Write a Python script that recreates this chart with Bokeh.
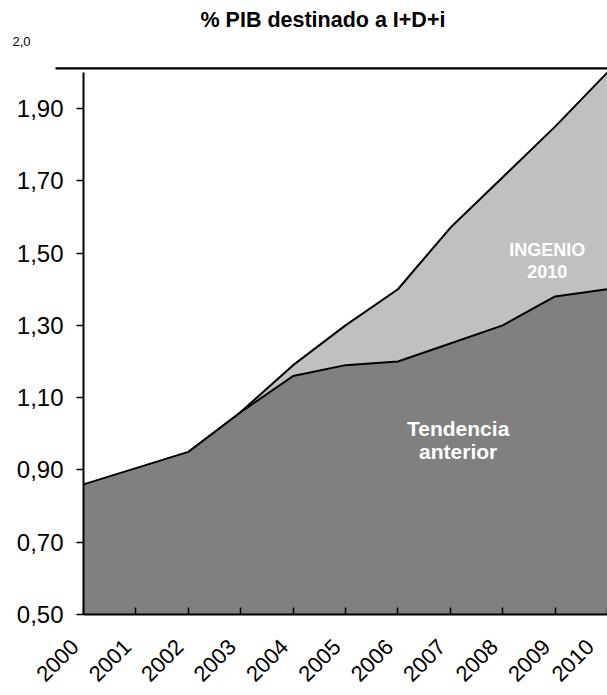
from math import pi
from bokeh.plotting import figure
from bokeh.models import (Range1d, LinearAxis, FixedTicker, CustomJSTickFormatter,
                          Label, ColumnDataSource)
from bokeh.embed import file_html
from bokeh.resources import INLINE

# ---- data ----
years = [2000, 2001, 2002, 2003, 2004, 2005, 2006, 2007, 2008, 2009, 2010]
tendencia = [0.86, 0.905, 0.95, 1.06, 1.16, 1.19, 1.20, 1.25, 1.30, 1.38, 1.40]
ingenio = [0.86, 0.905, 0.95, 1.06, 1.19, 1.30, 1.40, 1.57, 1.71, 1.85, 2.00]
y_ticks = [0.5, 0.7, 0.9, 1.1, 1.3, 1.5, 1.7, 1.9]
title_text = "% PIB destinado a I+D+i"
top_label = "2,0"
label_ingenio = ["INGENIO", "2010"]
label_tendencia = ["Tendencia", "anterior"]

FONT = "Liberation Sans"
Y0 = 0.5
Y_TOP = 2.0
X_START = 1998.416
Y_START = 0.2759
Y_END = 2.0993

src = ColumnDataSource(dict(x=years, t=tendencia, i=ingenio))

p = figure(width=607, height=695, output_backend="svg", toolbar_location=None,
           x_range=Range1d(X_START, 2010), y_range=Range1d(Y_START, Y_END),
           x_axis_location=None, y_axis_location=None,
           min_border_left=0, min_border_right=0, min_border_top=36,
           min_border_bottom=0)
p.grid.visible = False
p.outline_line_color = None
p.background_fill_color = "white"
p.border_fill_color = "white"

# areas
p.varea(x="x", y1=Y0, y2="i", source=src, fill_color="#C0C0C0")
p.varea(x="x", y1=Y0, y2="t", source=src, fill_color="#808080")
# lines
p.line(years[3:], ingenio[3:], line_color="black", line_width=2)
p.line("x", "t", source=src, line_color="black", line_width=2)

# top rule at the 2,0 level
p.segment(x0=1999.466, y0=2.011, x1=2010.5, y1=2.011, line_color="black", line_width=2.2)

# y axis fixed at 2000
yax = LinearAxis(fixed_location=2000, ticker=FixedTicker(ticks=y_ticks),
                 formatter=CustomJSTickFormatter(code="return tick.toFixed(2).replace('.', ',');"),
                 bounds=(Y0, Y_TOP))
yax.axis_line_width = 2
yax.major_tick_in = 0
yax.major_tick_out = 7
yax.major_tick_line_width = 1.5
yax.minor_tick_line_color = None
yax.major_label_text_font = FONT
yax.major_label_text_font_size = "24px"
yax.major_label_text_color = "black"
yax.major_label_standoff = 13
p.add_layout(yax, "left")

# x axis fixed at 0,50
xax = LinearAxis(fixed_location=Y0, ticker=FixedTicker(ticks=years), bounds=(2000, 2010))
xax.axis_line_width = 2.2
xax.major_tick_in = 7
xax.major_tick_out = 0
xax.major_tick_line_width = 1.5
xax.minor_tick_line_color = None
xax.major_label_orientation = pi / 4
xax.major_label_overrides = {y: f"{y}\u00a0\u00a0" for y in years}
xax.major_label_text_font = FONT
xax.major_label_text_font_size = "22px"
xax.major_label_text_color = "black"
xax.major_label_standoff = 20
p.add_layout(xax, "below")

# title
p.title.text = title_text
p.title.align = "left"
p.title.offset = 200
p.title.text_font = FONT
p.title.text_font_size = "21.5px"
p.title.text_font_style = "bold"
p.title.text_color = "black"

p.add_layout(Label(x=1998.645, y=2.086, text=top_label, text_font=FONT,
                   text_font_size="13px", text_baseline="middle", text_color="black"))

for txt, yy in zip(label_ingenio, [1.509, 1.45]):
    p.add_layout(Label(x=2008.85, y=yy, text=txt, text_font=FONT, text_font_size="18px",
                       text_font_style="bold", text_color="white",
                       text_align="center", text_baseline="middle"))
for txt, yy in zip(label_tendencia, [1.015, 0.95]):
    p.add_layout(Label(x=2007.15, y=yy, text=txt, text_font=FONT, text_font_size="21px",
                       text_font_style="bold", text_color="white",
                       text_align="center", text_baseline="middle"))

open("out.html", "w").write(file_html(p, INLINE))
